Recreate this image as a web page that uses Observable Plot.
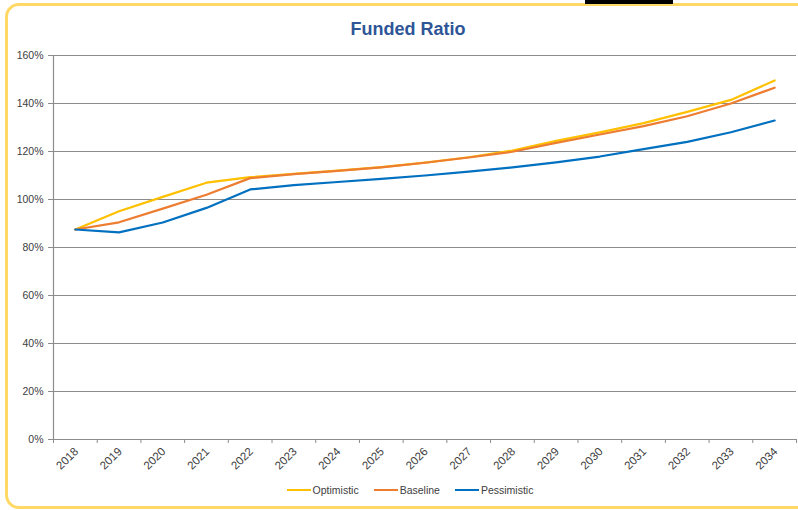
<!DOCTYPE html>
<html>
<head>
<meta charset="utf-8">
<script src="https://cdn.jsdelivr.net/npm/d3@7"></script>
<script src="https://cdn.jsdelivr.net/npm/@observablehq/plot@0.6"></script>
<style>
  html, body { margin: 0; padding: 0; background: #fff; }
  #wrap { position: relative; width: 798px; height: 510px; overflow: hidden; background: #fff; font-family: "Liberation Sans", Arial, sans-serif; }
  #frame { position: absolute; left: 5px; top: 3px; width: 830px; height: 500px; border: 3px solid #FFD966; border-radius: 14px; box-sizing: content-box; }
  #blk { position: absolute; left: 585px; top: 0; width: 88px; height: 4px; background: #000; }
  #title { position: absolute; left: 0; width: 816px; top: 19px; text-align: center; font-size: 18px; font-weight: bold; color: #2F5597; }
  #chart { position: absolute; left: 0; top: 40px; }
  #legend { position: absolute; left: 0; width: 820px; top: 484px; display: flex; justify-content: center; gap: 15px; font-size: 10.5px; color: #404040; }
  .item { display: flex; align-items: center; }
  .sw { display: inline-block; width: 24px; height: 2px; margin-right: 2px; }
</style>
</head>
<body>
<div id="wrap">
  <div id="frame"></div>
  <div id="blk"></div>
  <div id="title">Funded Ratio</div>
  <div id="chart"></div>
  <div id="legend"></div>
</div>
<script>
const years = [2018, 2019, 2020, 2021, 2022, 2023, 2024, 2025, 2026, 2027, 2028, 2029, 2030, 2031, 2032, 2033, 2034];
const optimistic  = [87.5, 95.1, 101.1, 107.0, 109.3, 110.7, 112.0, 113.5, 115.4, 117.6, 120.4, 124.4, 128.0, 131.8, 136.5, 141.5, 149.6];
const baseline    = [87.5, 90.5, 96.2, 102.0, 108.9, 110.6, 111.9, 113.4, 115.3, 117.5, 119.9, 123.6, 127.1, 130.6, 134.7, 140.0, 146.6];
const pessimistic = [87.5, 86.3, 90.4, 96.5, 104.2, 106.0, 107.3, 108.6, 110.0, 111.6, 113.4, 115.5, 117.9, 121.0, 124.0, 128.0, 132.9];
const seriesNames = ["Optimistic", "Baseline", "Pessimistic"];
const seriesColors = ["#FFC000", "#ED7D31", "#0070C0"];
const yTicks = [0, 20, 40, 60, 80, 100, 120, 140, 160];

const seriesValues = [optimistic, baseline, pessimistic];
const data = [];
seriesNames.forEach((name, i) => {
  years.forEach((yr, j) => data.push({series: name, year: yr, value: seriesValues[i][j]}));
});
const bounds = years.map(y => y - 0.5).concat([years[years.length - 1] + 0.5]);

const gray = "#8C8C8C";
const chart = Plot.plot({
  width: 798,
  height: 440,
  marginTop: 15,
  marginBottom: 41,
  marginLeft: 53,
  marginRight: 2,
  style: {fontFamily: "Liberation Sans, Arial, sans-serif", fontSize: "10.5px", color: "#404040", background: "transparent"},
  x: {domain: [bounds[0], bounds[bounds.length - 1]], label: null},
  y: {domain: [0, 160], label: null},
  color: {domain: seriesNames, range: seriesColors},
  marks: [
    Plot.ruleY(yTicks, {stroke: gray, strokeWidth: 1.2}),
    Plot.ruleX([bounds[0]], {stroke: gray, strokeWidth: 1.2}),
    Plot.axisX({ticks: bounds, tickFormat: () => "", tickSize: 4, stroke: gray}),
    Plot.axisX({ticks: years, tickFormat: d => String(d), tickSize: 0, tickRotate: -45, tickPadding: 10, dx: 1, fontSize: 11.5}),
    Plot.axisY({ticks: yTicks, tickFormat: d => d + "%", tickSize: 5, tickPadding: 5, stroke: gray}),
    Plot.line(data, {x: "year", y: "value", z: "series", stroke: "series", strokeWidth: 2.2, strokeLinejoin: "round"})
  ]
});
document.getElementById("chart").appendChild(chart);

const legend = document.getElementById("legend");
seriesNames.forEach((name, i) => {
  const it = document.createElement("div");
  it.className = "item";
  const sw = document.createElement("span");
  sw.className = "sw";
  sw.style.background = seriesColors[i];
  it.appendChild(sw);
  it.appendChild(document.createTextNode(name));
  legend.appendChild(it);
});
</script>
</body>
</html>
